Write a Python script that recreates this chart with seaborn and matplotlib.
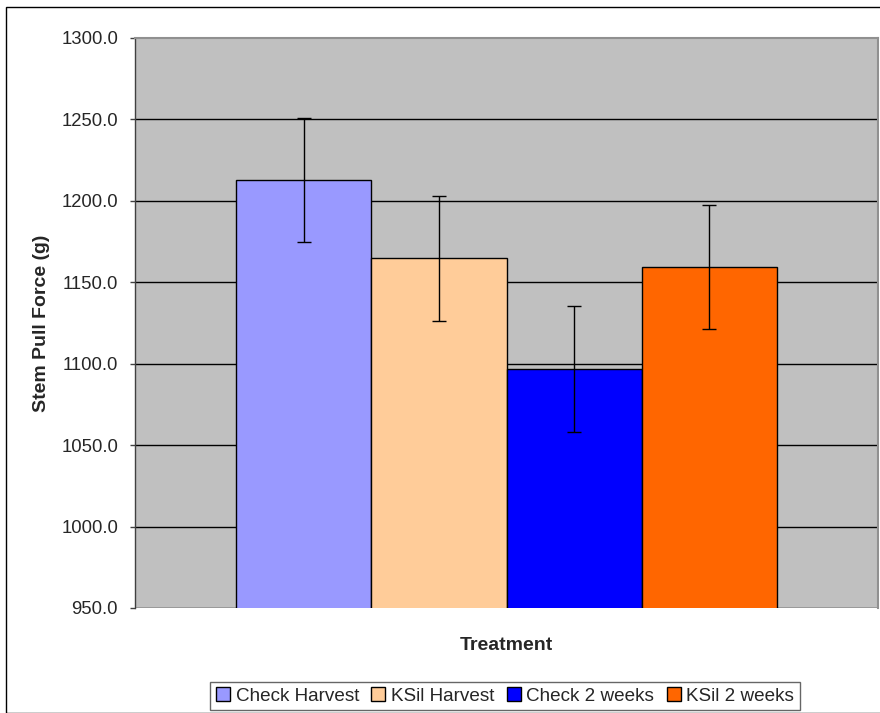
import matplotlib
matplotlib.use("Agg")
import matplotlib.pyplot as plt
import pandas as pd
import seaborn as sns

# datos
tratamientos = ["Check Harvest", "KSil Harvest", "Check 2 weeks", "KSil 2 weeks"]
fuerza = [1212.8, 1164.8, 1096.8, 1159.5]
error = [38.3, 38.3, 38.5, 38.0]
colores = ["#9999FF", "#FFCC99", "#0000FF", "#FF6600"]

df = pd.DataFrame({"grupo": [""] * 4, "tratamiento": tratamientos, "fuerza": fuerza})

sns.set_style("white")
plt.rcParams["font.family"] = ["Liberation Sans", "DejaVu Sans"]

fig = plt.figure(figsize=(8.8, 7.13), dpi=100)
ax = fig.add_axes([135 / 880, 1 - 608 / 713, 743 / 880, 570 / 713])

sns.barplot(data=df, x="grupo", y="fuerza", hue="tratamiento", hue_order=tratamientos,
            palette=colores, saturation=1, width=0.728, edgecolor="black", linewidth=1,
            errorbar=None, ax=ax, legend=True)

# barras de error
centros = [p.get_x() + p.get_width() / 2 for p in ax.patches[:4]]
ax.errorbar(centros, fuerza, yerr=error, fmt="none", ecolor="black",
            elinewidth=1, capsize=5, capthick=1)

ax.set_facecolor("#C0C0C0")
ax.set_ylim(950, 1300)
ax.set_xlim(-0.5, 0.5)
ax.set_yticks(range(950, 1301, 50))
ax.set_yticklabels([f"{v:.1f}" for v in range(950, 1301, 50)], fontsize=13.3)
ax.set_xticks([])
ax.yaxis.grid(True, color="black", linewidth=1)
ax.set_axisbelow(True)
ax.tick_params(axis="y", which="both", direction="out", length=3.6, width=1,
               color="#404040", left=True, pad=8.6)
ax.spines["bottom"].set_visible(False)
for lado in ["top", "right"]:
    ax.spines[lado].set_color("#909090")
    ax.spines[lado].set_linewidth(1.5)
ax.spines["left"].set_color("#404040")
ax.spines["left"].set_linewidth(1)

ax.set_xlabel("Treatment", fontsize=14, fontweight="bold", labelpad=21)
ax.set_ylabel("Stem Pull Force (g)", fontsize=14, fontweight="bold", labelpad=7.7)

ax.legend_.remove()
handles = [plt.Rectangle((0, 0), 1, 1, facecolor=c, edgecolor="black", linewidth=1) for c in colores]
leg = fig.legend(handles, tratamientos, loc="center", bbox_to_anchor=(505 / 880, 1 - 696 / 713),
                 ncol=4, fontsize=13.6, frameon=True, fancybox=False, edgecolor="#404040",
                 handlelength=0.75, handleheight=0.75, handletextpad=0.3, columnspacing=0.65,
                 borderpad=0.3, borderaxespad=0)
leg.get_frame().set_linewidth(1)

# marco exterior
fig.patches.append(plt.Rectangle((6 / 880, 0), 1, 1 - 7 / 713,
                                 transform=fig.transFigure, fill=False,
                                 edgecolor="black", linewidth=1))

fig.canvas.draw()
# la linea de 1300 no se ve en el original
ax.yaxis.get_gridlines()[-1].set_visible(False)

fig.savefig("out.png", dpi=100)
